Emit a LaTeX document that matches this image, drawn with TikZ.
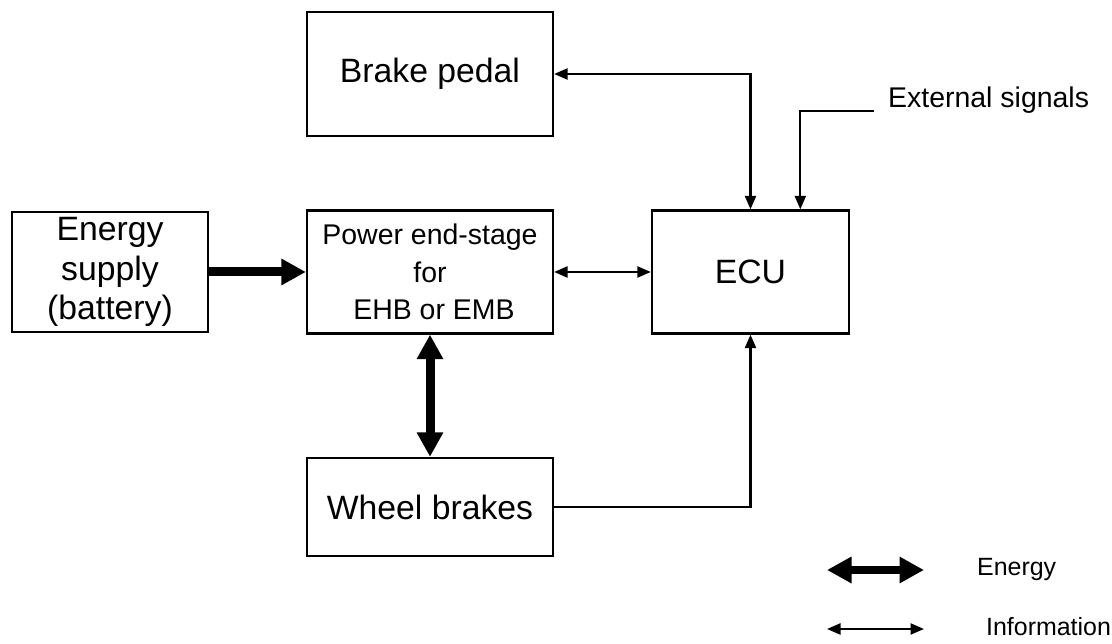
\documentclass[tikz,border=0pt]{standalone}
\usepackage{fontspec}
\setmainfont{Liberation Sans}
\usetikzlibrary{arrows.meta,positioning,calc}
\tikzset{every picture/.style={line width=1.3pt}}
\tikzset{
  block/.style={draw, inner sep=0pt, align=center, minimum width=4.92cm, minimum height=2.46cm,
    font=\fontsize{19.2}{22.7}\selectfont},
  small/.style={font=\fontsize{16.2}{21.3}\selectfont},
  lbl/.style={inner sep=0pt, font=\fontsize{14.2}{17}\selectfont},
  etip/.tip={Triangle[length=0.49cm,width=0.5cm]},
  itip/.tip={Triangle[length=0.27cm,width=0.22cm]},
  energy/.style={line width=0.18cm},
  info/.style={line width=1.3pt}
}
\begin{document}
\begin{tikzpicture}
    \useasboundingbox (0,0) rectangle (22.24,12.88);

    % 方框
    \node[block, minimum height=2.48cm] (pedal) at (8.6,11.4) {Brake pedal};
    \node[block, minimum width=3.92cm, minimum height=2.4cm] (supply) at (2.2,7.44) {Energy\\supply\\(battery)};
    \node[block, small] (stage) at (8.6,7.44) {Power end-stage\\for\\\ EHB or EMB};
    \node[block, minimum width=3.94cm] (ecu) at (15.01,7.44) {ECU};
    \node[block, minimum height=1.96cm] (wheels) at (8.6,2.74) {Wheel brakes};

    % 能量
    \draw[energy, -etip] (supply) -- (stage);
    \draw[energy, etip-etip] (stage) -- (wheels);

    % 信息
    \draw[info, itip-itip] (stage) -- (ecu);
    \draw[info, itip-itip] (pedal.east) -| (ecu.north);
    \draw[info, -itip] (wheels.east) -| (ecu.south);

    % 外部信号
    \coordinate (ext) at (17.48,10.66);
    \node[small, inner sep=0pt, anchor=base west] (extsig) at (17.74,10.72) {External signals};
    \draw[info, -itip] (ext) -| ($(ecu.north)!0.5!(ecu.north east)$);

    % 图例
    \coordinate (e1) at (16.54,1.48);
    \coordinate (e2) at (18.48,1.48);
    \draw[energy, line width=0.15cm, etip-etip] (e1) -- (e2);
    \node[lbl, anchor=west] (elbl) at (19.52,1.48) {Energy};
    \coordinate (i1) at (16.54,0.3);
    \coordinate (i2) at (18.48,0.3);
    \draw[info, itip-itip] (i1) -- (i2);
    \node[lbl, anchor=west] (ilbl) at (19.7,0.34) {Information};
\end{tikzpicture}
\end{document}
